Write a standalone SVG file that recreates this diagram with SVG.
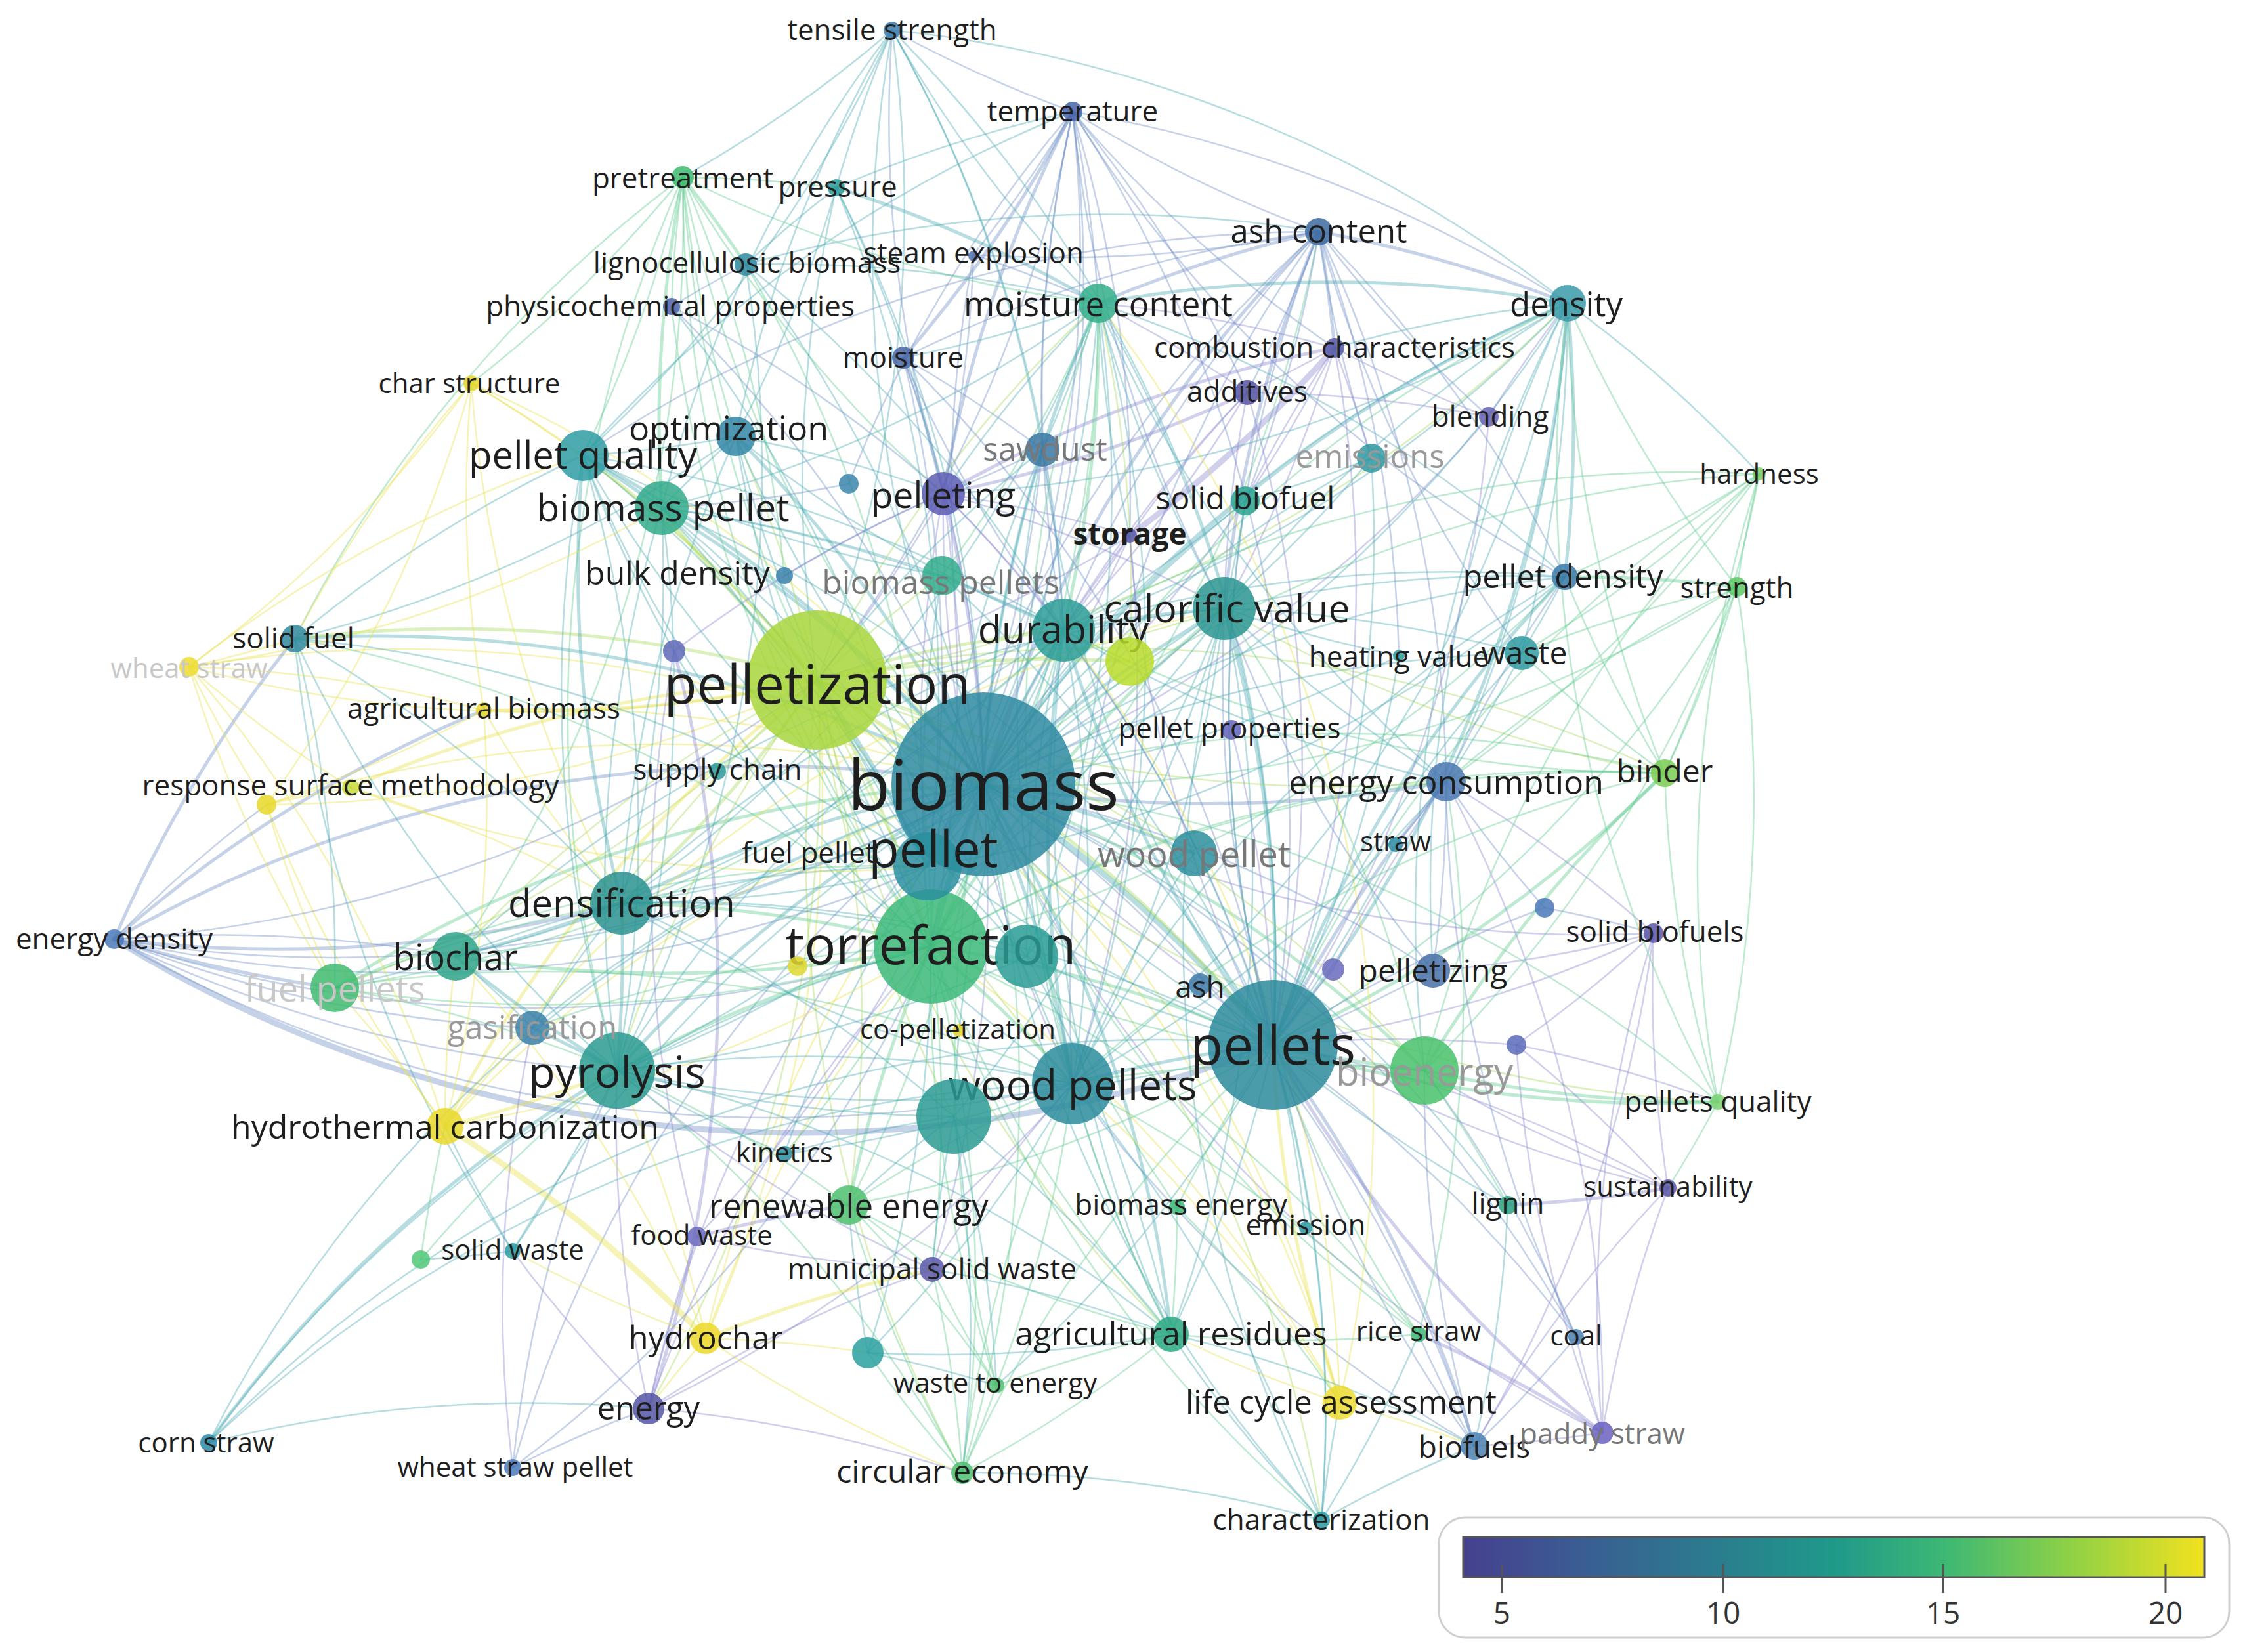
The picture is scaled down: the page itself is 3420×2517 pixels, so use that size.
<svg xmlns="http://www.w3.org/2000/svg" width="3420" height="2517" viewBox="0 0 3420 2517">
<defs>
<linearGradient id="vir" x1="0" y1="0" x2="1" y2="0">
<stop offset="0" stop-color="#46408e"/><stop offset="0.15" stop-color="#3b5b93"/><stop offset="0.35" stop-color="#2a7e8e"/><stop offset="0.5" stop-color="#1f998a"/><stop offset="0.65" stop-color="#3db874"/><stop offset="0.82" stop-color="#8fd146"/><stop offset="1" stop-color="#f2e21e"/>
</linearGradient>
</defs>
<style>
#edges path{fill:none;stroke-opacity:.4;stroke-linecap:round}
.t1{stroke:#4aa9b5;stroke-width:2.5}.t2{stroke:#4aa9b5;stroke-width:5}.t3{stroke:#4aa9b5;stroke-width:9}
.b1{stroke:#6d8fc6;stroke-width:2.5}.b2{stroke:#6d8fc6;stroke-width:5}.b3{stroke:#6d8fc6;stroke-width:9}
.p1{stroke:#8a86cf;stroke-width:2.5}.p2{stroke:#8a86cf;stroke-width:5}.p3{stroke:#8a86cf;stroke-width:9}
.g1{stroke:#5fca8e;stroke-width:2.5}.g2{stroke:#5fca8e;stroke-width:5}.g3{stroke:#5fca8e;stroke-width:9}
.y1{stroke:#e8e24c;stroke-width:2.5}.y2{stroke:#e8e24c;stroke-width:5}.y3{stroke:#e8e24c;stroke-width:9}
.l1{stroke:#a8d95a;stroke-width:2.5}.l2{stroke:#a8d95a;stroke-width:5}
circle.nd{fill-opacity:.85}
text{font-family:"Open Sans","Liberation Sans",sans-serif;fill:#1e1e1e;text-anchor:middle;dominant-baseline:central}
text.fd1{fill:#777}text.fd2{fill:#999}text.fd3{fill:#c8c8c8}
.tick{stroke:#555;stroke-width:3}
.lg{font-size:46px;fill:#333}
</style>
<rect width="3420" height="2517" fill="#ffffff"/>
<g id="edges">
<path class="t1" d="M1498 1195A2000 2000 0 0 1 1359 46"/>
<path class="b1" d="M1634 170A2000 2000 0 0 1 1498 1195"/>
<path class="g1" d="M1498 1195A2000 2000 0 0 1 1040 270"/>
<path class="t1" d="M1274 286A2000 2000 0 0 1 1498 1195"/>
<path class="b2" d="M1498 1195A2000 2000 0 0 1 2009 353"/>
<path class="t1" d="M1136 403A2000 2000 0 0 1 1498 1195"/>
<path class="b1" d="M1498 1195A2000 2000 0 0 1 1483 388"/>
<path class="b1" d="M1023 467A2000 2000 0 0 1 1498 1195"/>
<path class="t2" d="M1498 1195A2000 2000 0 0 1 1673 462"/>
<path class="t2" d="M1498 1195A2000 2000 0 0 1 2388 462"/>
<path class="p1" d="M2033 530A2000 2000 0 0 1 1498 1195"/>
<path class="b1" d="M1376 545A2000 2000 0 0 1 1498 1195"/>
<path class="y1" d="M718 584A2000 2000 0 0 1 1498 1195"/>
<path class="p1" d="M1498 1195A2000 2000 0 0 1 1900 598"/>
<path class="p1" d="M2268 635A2000 2000 0 0 1 1498 1195"/>
<path class="t2" d="M1121 665A2000 2000 0 0 1 1498 1195"/>
<path class="t2" d="M888 694A2000 2000 0 0 1 1498 1195"/>
<path class="t1" d="M1498 1195A2000 2000 0 0 1 1588 685"/>
<path class="t1" d="M1498 1195A2000 2000 0 0 1 2089 698"/>
<path class="g1" d="M1498 1195A2000 2000 0 0 1 2680 722"/>
<path class="p2" d="M1437 752A2000 2000 0 0 1 1498 1195"/>
<path class="t2" d="M1008 774A2000 2000 0 0 1 1498 1195"/>
<path class="t1" d="M1498 1195A2000 2000 0 0 1 1897 763"/>
<path class="p1" d="M1721 816A2000 2000 0 0 1 1498 1195"/>
<path class="t1" d="M1498 1195A2000 2000 0 0 1 2384 879"/>
<path class="g1" d="M2646 894A2000 2000 0 0 1 1498 1195"/>
<path class="t2" d="M449 973A2000 2000 0 0 1 1498 1195"/>
<path class="y1" d="M288 1016A2000 2000 0 0 1 1498 1195"/>
<path class="t2" d="M1498 1195A2000 2000 0 0 1 1620 960"/>
<path class="t2" d="M1498 1195A2000 2000 0 0 1 1865 927"/>
<path class="t1" d="M2131 999A2000 2000 0 0 1 1498 1195"/>
<path class="t1" d="M1498 1195A2000 2000 0 0 1 2318 995"/>
<path class="y1" d="M737 1082A2000 2000 0 0 1 1498 1195"/>
<path class="b2" d="M2203 1191A2000 2000 0 0 1 1498 1195"/>
<path class="g1" d="M1498 1195A2000 2000 0 0 1 2536 1178"/>
<path class="y1" d="M406 1226A2000 2000 0 0 1 1498 1195"/>
<path class="t2" d="M1498 1195A2000 2000 0 0 1 1819 1300"/>
<path class="t2" d="M947 1376A2000 2000 0 0 1 1498 1195"/>
<path class="p1" d="M2519 1422A2000 2000 0 0 1 1498 1195"/>
<path class="b2" d="M174 1431A2000 2000 0 0 1 1498 1195"/>
<path class="t1" d="M1498 1195A2000 2000 0 0 1 694 1457"/>
<path class="g2" d="M510 1505A2000 2000 0 0 1 1498 1195"/>
<path class="b1" d="M1498 1195A2000 2000 0 0 1 2183 1479"/>
<path class="t1" d="M811 1566A2000 2000 0 0 1 1498 1195"/>
<path class="g2" d="M1498 1195A2000 2000 0 0 1 2170 1631"/>
<path class="t2" d="M940 1631A2000 2000 0 0 1 1498 1195"/>
<path class="t2" d="M1498 1195A2000 2000 0 0 1 1634 1651"/>
<path class="y1" d="M678 1716A2000 2000 0 0 1 1498 1195"/>
<path class="g1" d="M1498 1195A2000 2000 0 0 1 2617 1679"/>
<path class="t1" d="M1195 1758A2000 2000 0 0 1 1498 1195"/>
<path class="g1" d="M1498 1195A2000 2000 0 0 1 1293 1836"/>
<path class="g1" d="M1793 1839A2000 2000 0 0 1 1498 1195"/>
<path class="t1" d="M1498 1195A2000 2000 0 0 1 2297 1836"/>
<path class="p1" d="M2541 1810A2000 2000 0 0 1 1498 1195"/>
<path class="p1" d="M1498 1195A2000 2000 0 0 1 1062 1884"/>
<path class="t1" d="M781 1906A2000 2000 0 0 1 1498 1195"/>
<path class="p1" d="M1498 1195A2000 2000 0 0 1 1420 1934"/>
<path class="y1" d="M1075 2039A2000 2000 0 0 1 1498 1195"/>
<path class="t2" d="M1498 1195A2000 2000 0 0 1 1784 2033"/>
<path class="g1" d="M2161 2033A2000 2000 0 0 1 1498 1195"/>
<path class="b1" d="M1498 1195A2000 2000 0 0 1 2401 2037"/>
<path class="g1" d="M1518 2111A2000 2000 0 0 1 1498 1195"/>
<path class="p1" d="M988 2146A2000 2000 0 0 1 1498 1195"/>
<path class="y1" d="M1498 1195A2000 2000 0 0 1 2041 2137"/>
<path class="t1" d="M318 2198A2000 2000 0 0 1 1498 1195"/>
<path class="b1" d="M1498 1195A2000 2000 0 0 1 2246 2203"/>
<path class="p1" d="M2441 2183A2000 2000 0 0 1 1498 1195"/>
<path class="b1" d="M781 2236A2000 2000 0 0 1 1498 1195"/>
<path class="g1" d="M1498 1195A2000 2000 0 0 1 1466 2244"/>
<path class="t1" d="M2013 2316A2000 2000 0 0 1 1498 1195"/>
<path class="l2" d="M1498 1195A2000 2000 0 0 1 1245 1036"/>
<path class="t3" d="M1418 1442A2000 2000 0 0 1 1498 1195"/>
<path class="t3" d="M1498 1195A2000 2000 0 0 1 1939 1592"/>
<path class="y1" d="M1245 1036A2000 2000 0 0 1 288 1016"/>
<path class="l2" d="M449 973A2000 2000 0 0 1 1245 1036"/>
<path class="y1" d="M1245 1036A2000 2000 0 0 1 406 1226"/>
<path class="y2" d="M534 1200A2000 2000 0 0 1 1245 1036"/>
<path class="y2" d="M1245 1036A2000 2000 0 0 1 737 1082"/>
<path class="y1" d="M718 584A2000 2000 0 0 1 1245 1036"/>
<path class="g1" d="M1245 1036A2000 2000 0 0 1 1040 270"/>
<path class="l2" d="M888 694A2000 2000 0 0 1 1245 1036"/>
<path class="l2" d="M1245 1036A2000 2000 0 0 1 1008 774"/>
<path class="l1" d="M1121 665A2000 2000 0 0 1 1245 1036"/>
<path class="l2" d="M1245 1036A2000 2000 0 0 1 947 1376"/>
<path class="l1" d="M694 1457A2000 2000 0 0 1 1245 1036"/>
<path class="l1" d="M1245 1036A2000 2000 0 0 1 510 1505"/>
<path class="y2" d="M678 1716A2000 2000 0 0 1 1245 1036"/>
<path class="y1" d="M1245 1036A2000 2000 0 0 1 1075 2039"/>
<path class="l1" d="M940 1631A2000 2000 0 0 1 1245 1036"/>
<path class="l2" d="M1245 1036A2000 2000 0 0 1 1939 1592"/>
<path class="l1" d="M1634 1651A2000 2000 0 0 1 1245 1036"/>
<path class="l2" d="M1245 1036A2000 2000 0 0 1 1620 960"/>
<path class="l1" d="M1865 927A2000 2000 0 0 1 1245 1036"/>
<path class="l1" d="M1245 1036A2000 2000 0 0 1 1673 462"/>
<path class="l1" d="M2388 462A2000 2000 0 0 1 1245 1036"/>
<path class="l1" d="M1245 1036A2000 2000 0 0 1 2536 1178"/>
<path class="l1" d="M2617 1679A2000 2000 0 0 1 1245 1036"/>
<path class="y1" d="M1245 1036A2000 2000 0 0 1 2041 2137"/>
<path class="l1" d="M1466 2244A2000 2000 0 0 1 1245 1036"/>
<path class="l1" d="M1245 1036A2000 2000 0 0 1 1293 1836"/>
<path class="l1" d="M1784 2033A2000 2000 0 0 1 1245 1036"/>
<path class="l1" d="M1245 1036A2000 2000 0 0 1 988 2146"/>
<path class="l1" d="M811 1566A2000 2000 0 0 1 1245 1036"/>
<path class="l1" d="M1245 1036A2000 2000 0 0 1 2013 2316"/>
<path class="t1" d="M1359 46A2000 2000 0 0 1 1245 1036"/>
<path class="l2" d="M1245 1036A2000 2000 0 0 1 1418 1442"/>
<path class="t2" d="M1245 1036A2000 2000 0 0 1 1413 1320"/>
<path class="l2" d="M1245 1036A2000 2000 0 0 1 1721 1008"/>
<path class="g1" d="M1418 1442A2000 2000 0 0 1 1040 270"/>
<path class="g1" d="M1136 403A2000 2000 0 0 1 1418 1442"/>
<path class="g1" d="M1418 1442A2000 2000 0 0 1 1023 467"/>
<path class="g1" d="M1673 462A2000 2000 0 0 1 1418 1442"/>
<path class="g2" d="M1418 1442A2000 2000 0 0 1 1865 927"/>
<path class="g1" d="M1620 960A2000 2000 0 0 1 1418 1442"/>
<path class="g2" d="M1418 1442A2000 2000 0 0 1 1634 1651"/>
<path class="g2" d="M940 1631A2000 2000 0 0 1 1418 1442"/>
<path class="g2" d="M1418 1442A2000 2000 0 0 1 694 1457"/>
<path class="g2" d="M947 1376A2000 2000 0 0 1 1418 1442"/>
<path class="g1" d="M1418 1442A2000 2000 0 0 1 510 1505"/>
<path class="g1" d="M811 1566A2000 2000 0 0 1 1418 1442"/>
<path class="y1" d="M1418 1442A2000 2000 0 0 1 678 1716"/>
<path class="y1" d="M1075 2039A2000 2000 0 0 1 1418 1442"/>
<path class="g1" d="M1418 1442A2000 2000 0 0 1 1195 1758"/>
<path class="g2" d="M1293 1836A2000 2000 0 0 1 1418 1442"/>
<path class="g1" d="M1418 1442A2000 2000 0 0 1 1420 1934"/>
<path class="g1" d="M1784 2033A2000 2000 0 0 1 1418 1442"/>
<path class="g1" d="M1418 1442A2000 2000 0 0 1 2161 2033"/>
<path class="g1" d="M1518 2111A2000 2000 0 0 1 1418 1442"/>
<path class="g1" d="M1418 1442A2000 2000 0 0 1 1466 2244"/>
<path class="g1" d="M2013 2316A2000 2000 0 0 1 1418 1442"/>
<path class="b1" d="M1418 1442A2000 2000 0 0 1 174 1431"/>
<path class="g1" d="M449 973A2000 2000 0 0 1 1418 1442"/>
<path class="g1" d="M1418 1442A2000 2000 0 0 1 2536 1178"/>
<path class="g1" d="M2170 1631A2000 2000 0 0 1 1418 1442"/>
<path class="g1" d="M1418 1442A2000 2000 0 0 1 2203 1191"/>
<path class="g1" d="M2384 879A2000 2000 0 0 1 1418 1442"/>
<path class="g1" d="M1418 1442A2000 2000 0 0 1 2388 462"/>
<path class="g1" d="M2009 353A2000 2000 0 0 1 1418 1442"/>
<path class="y1" d="M1418 1442A2000 2000 0 0 1 2041 2137"/>
<path class="g2" d="M1418 1442A2000 2000 0 0 1 1939 1592"/>
<path class="b3" d="M1939 1592A2000 2000 0 0 1 174 1431"/>
<path class="t2" d="M2388 462A2000 2000 0 0 1 1939 1592"/>
<path class="b1" d="M1939 1592A2000 2000 0 0 1 2009 353"/>
<path class="t2" d="M1865 927A2000 2000 0 0 1 1939 1592"/>
<path class="t2" d="M1939 1592A2000 2000 0 0 1 1620 960"/>
<path class="t1" d="M1673 462A2000 2000 0 0 1 1939 1592"/>
<path class="t2" d="M1939 1592A2000 2000 0 0 1 2384 879"/>
<path class="g1" d="M2646 894A2000 2000 0 0 1 1939 1592"/>
<path class="g1" d="M1939 1592A2000 2000 0 0 1 2680 722"/>
<path class="g2" d="M2536 1178A2000 2000 0 0 1 1939 1592"/>
<path class="b2" d="M1939 1592A2000 2000 0 0 1 2203 1191"/>
<path class="p1" d="M2519 1422A2000 2000 0 0 1 1939 1592"/>
<path class="b1" d="M1939 1592A2000 2000 0 0 1 2353 1383"/>
<path class="b1" d="M2183 1479A2000 2000 0 0 1 1939 1592"/>
<path class="p1" d="M1939 1592A2000 2000 0 0 1 2031 1477"/>
<path class="g2" d="M2170 1631A2000 2000 0 0 1 1939 1592"/>
<path class="p1" d="M1939 1592A2000 2000 0 0 1 2310 1592"/>
<path class="g2" d="M2617 1679A2000 2000 0 0 1 1939 1592"/>
<path class="p1" d="M1939 1592A2000 2000 0 0 1 2541 1810"/>
<path class="t1" d="M2297 1836A2000 2000 0 0 1 1939 1592"/>
<path class="t1" d="M1939 1592A2000 2000 0 0 1 1989 1871"/>
<path class="g1" d="M1793 1839A2000 2000 0 0 1 1939 1592"/>
<path class="t1" d="M1939 1592A2000 2000 0 0 1 1784 2033"/>
<path class="g1" d="M2161 2033A2000 2000 0 0 1 1939 1592"/>
<path class="b1" d="M1939 1592A2000 2000 0 0 1 2401 2037"/>
<path class="y2" d="M2041 2137A2000 2000 0 0 1 1939 1592"/>
<path class="b2" d="M1939 1592A2000 2000 0 0 1 2246 2203"/>
<path class="p2" d="M2441 2183A2000 2000 0 0 1 1939 1592"/>
<path class="t1" d="M1939 1592A2000 2000 0 0 1 2013 2316"/>
<path class="t2" d="M1634 1651A2000 2000 0 0 1 1939 1592"/>
<path class="t1" d="M1939 1592A2000 2000 0 0 1 940 1631"/>
<path class="t1" d="M947 1376A2000 2000 0 0 1 1939 1592"/>
<path class="t1" d="M1939 1592A2000 2000 0 0 1 1518 2111"/>
<path class="g1" d="M1466 2244A2000 2000 0 0 1 1939 1592"/>
<path class="g1" d="M1939 1592A2000 2000 0 0 1 1293 1836"/>
<path class="p1" d="M1437 752A2000 2000 0 0 1 1939 1592"/>
<path class="t1" d="M1939 1592A2000 2000 0 0 1 1588 685"/>
<path class="b1" d="M1634 1651A2000 2000 0 0 1 2009 353"/>
<path class="t1" d="M1673 462A2000 2000 0 0 1 1634 1651"/>
<path class="t2" d="M1634 1651A2000 2000 0 0 1 1620 960"/>
<path class="t1" d="M1865 927A2000 2000 0 0 1 1634 1651"/>
<path class="t1" d="M1634 1651A2000 2000 0 0 1 1588 685"/>
<path class="p1" d="M1721 816A2000 2000 0 0 1 1634 1651"/>
<path class="g1" d="M1634 1651A2000 2000 0 0 1 2170 1631"/>
<path class="t1" d="M1784 2033A2000 2000 0 0 1 1634 1651"/>
<path class="y1" d="M1634 1651A2000 2000 0 0 1 2041 2137"/>
<path class="b1" d="M2246 2203A2000 2000 0 0 1 1634 1651"/>
<path class="t1" d="M1634 1651A2000 2000 0 0 1 2013 2316"/>
<path class="g1" d="M1466 2244A2000 2000 0 0 1 1634 1651"/>
<path class="g1" d="M1634 1651A2000 2000 0 0 1 1518 2111"/>
<path class="p1" d="M1420 1934A2000 2000 0 0 1 1634 1651"/>
<path class="p1" d="M1634 1651A2000 2000 0 0 1 988 2146"/>
<path class="t1" d="M318 2198A2000 2000 0 0 1 1634 1651"/>
<path class="b1" d="M1634 1651A2000 2000 0 0 1 174 1431"/>
<path class="g1" d="M510 1505A2000 2000 0 0 1 1634 1651"/>
<path class="t1" d="M1634 1651A2000 2000 0 0 1 947 1376"/>
<path class="t1" d="M940 1631A2000 2000 0 0 1 1634 1651"/>
<path class="t1" d="M1634 1651A2000 2000 0 0 1 1195 1758"/>
<path class="g1" d="M1293 1836A2000 2000 0 0 1 1634 1651"/>
<path class="t1" d="M1634 1651A2000 2000 0 0 1 1322 2061"/>
<path class="t1" d="M888 694A2000 2000 0 0 1 1413 1320"/>
<path class="t1" d="M1413 1320A2000 2000 0 0 1 1121 665"/>
<path class="t1" d="M1008 774A2000 2000 0 0 1 1413 1320"/>
<path class="t1" d="M1413 1320A2000 2000 0 0 1 947 1376"/>
<path class="t1" d="M694 1457A2000 2000 0 0 1 1413 1320"/>
<path class="t1" d="M1413 1320A2000 2000 0 0 1 940 1631"/>
<path class="g1" d="M510 1505A2000 2000 0 0 1 1413 1320"/>
<path class="y1" d="M1413 1320A2000 2000 0 0 1 534 1200"/>
<path class="t1" d="M449 973A2000 2000 0 0 1 1413 1320"/>
<path class="b1" d="M1413 1320A2000 2000 0 0 1 174 1431"/>
<path class="t1" d="M1620 960A2000 2000 0 0 1 1413 1320"/>
<path class="t1" d="M1413 1320A2000 2000 0 0 1 1865 927"/>
<path class="t1" d="M1673 462A2000 2000 0 0 1 1413 1320"/>
<path class="t1" d="M1413 1320A2000 2000 0 0 1 2388 462"/>
<path class="t1" d="M2384 879A2000 2000 0 0 1 1413 1320"/>
<path class="t2" d="M940 1631A2000 2000 0 0 1 694 1457"/>
<path class="t2" d="M811 1566A2000 2000 0 0 1 940 1631"/>
<path class="y2" d="M940 1631A2000 2000 0 0 1 678 1716"/>
<path class="t2" d="M947 1376A2000 2000 0 0 1 940 1631"/>
<path class="y1" d="M940 1631A2000 2000 0 0 1 1075 2039"/>
<path class="p1" d="M988 2146A2000 2000 0 0 1 940 1631"/>
<path class="t2" d="M318 2198A2000 2000 0 0 1 940 1631"/>
<path class="t1" d="M940 1631A2000 2000 0 0 1 781 1906"/>
<path class="g1" d="M641 1919A2000 2000 0 0 1 940 1631"/>
<path class="b1" d="M940 1631A2000 2000 0 0 1 174 1431"/>
<path class="g1" d="M510 1505A2000 2000 0 0 1 940 1631"/>
<path class="t1" d="M940 1631A2000 2000 0 0 1 449 973"/>
<path class="t1" d="M1195 1758A2000 2000 0 0 1 940 1631"/>
<path class="g1" d="M940 1631A2000 2000 0 0 1 1293 1836"/>
<path class="p1" d="M1420 1934A2000 2000 0 0 1 940 1631"/>
<path class="g1" d="M940 1631A2000 2000 0 0 1 1466 2244"/>
<path class="t1" d="M1136 403A2000 2000 0 0 1 940 1631"/>
<path class="g1" d="M940 1631A2000 2000 0 0 1 1040 270"/>
<path class="t2" d="M947 1376A2000 2000 0 0 1 888 694"/>
<path class="t1" d="M1008 774A2000 2000 0 0 1 947 1376"/>
<path class="t1" d="M947 1376A2000 2000 0 0 1 1121 665"/>
<path class="t1" d="M449 973A2000 2000 0 0 1 947 1376"/>
<path class="b2" d="M947 1376A2000 2000 0 0 1 174 1431"/>
<path class="g1" d="M510 1505A2000 2000 0 0 1 947 1376"/>
<path class="t2" d="M947 1376A2000 2000 0 0 1 694 1457"/>
<path class="t1" d="M811 1566A2000 2000 0 0 1 947 1376"/>
<path class="y1" d="M947 1376A2000 2000 0 0 1 737 1082"/>
<path class="y1" d="M534 1200A2000 2000 0 0 1 947 1376"/>
<path class="y1" d="M947 1376A2000 2000 0 0 1 718 584"/>
<path class="t1" d="M1673 462A2000 2000 0 0 1 947 1376"/>
<path class="t1" d="M947 1376A2000 2000 0 0 1 1620 960"/>
<path class="t1" d="M2388 462A2000 2000 0 0 1 947 1376"/>
<path class="b2" d="M1634 170A2000 2000 0 0 1 1376 545"/>
<path class="b2" d="M1437 752A2000 2000 0 0 1 1634 170"/>
<path class="b1" d="M1634 170A2000 2000 0 0 1 1673 462"/>
<path class="b1" d="M2009 353A2000 2000 0 0 1 1634 170"/>
<path class="b1" d="M1634 170A2000 2000 0 0 1 2388 462"/>
<path class="b1" d="M1588 685A2000 2000 0 0 1 1634 170"/>
<path class="b1" d="M1634 170A2000 2000 0 0 1 1245 1036"/>
<path class="b1" d="M1620 960A2000 2000 0 0 1 1634 170"/>
<path class="b1" d="M1634 170A2000 2000 0 0 1 1483 388"/>
<path class="t1" d="M1274 286A2000 2000 0 0 1 1634 170"/>
<path class="b1" d="M1634 170A2000 2000 0 0 1 1359 46"/>
<path class="b1" d="M2033 530A2000 2000 0 0 1 1634 170"/>
<path class="b1" d="M1634 170A2000 2000 0 0 1 1900 598"/>
<path class="b1" d="M1293 737A2000 2000 0 0 1 1634 170"/>
<path class="b1" d="M1634 170A2000 2000 0 0 1 1721 816"/>
<path class="t1" d="M888 694A2000 2000 0 0 1 1634 170"/>
<path class="t1" d="M1359 46A2000 2000 0 0 1 888 694"/>
<path class="t1" d="M1121 665A2000 2000 0 0 1 1359 46"/>
<path class="t1" d="M1359 46A2000 2000 0 0 1 1620 960"/>
<path class="b1" d="M1437 752A2000 2000 0 0 1 1359 46"/>
<path class="t1" d="M1359 46A2000 2000 0 0 1 2388 462"/>
<path class="t1" d="M1673 462A2000 2000 0 0 1 1359 46"/>
<path class="t1" d="M1359 46A2000 2000 0 0 1 1040 270"/>
<path class="t1" d="M1274 286A2000 2000 0 0 1 1359 46"/>
<path class="t1" d="M1359 46A2000 2000 0 0 1 1939 1592"/>
<path class="g2" d="M1040 270A2000 2000 0 0 1 1136 403"/>
<path class="g1" d="M1023 467A2000 2000 0 0 1 1040 270"/>
<path class="g1" d="M1040 270A2000 2000 0 0 1 888 694"/>
<path class="g2" d="M1008 774A2000 2000 0 0 1 1040 270"/>
<path class="g1" d="M1040 270A2000 2000 0 0 1 718 584"/>
<path class="g1" d="M1121 665A2000 2000 0 0 1 1040 270"/>
<path class="g1" d="M1040 270A2000 2000 0 0 1 1274 286"/>
<path class="g1" d="M1673 462A2000 2000 0 0 1 1040 270"/>
<path class="g1" d="M1040 270A2000 2000 0 0 1 1195 877"/>
<path class="g1" d="M449 973A2000 2000 0 0 1 1040 270"/>
<path class="g1" d="M1040 270A2000 2000 0 0 1 694 1457"/>
<path class="g1" d="M1437 752A2000 2000 0 0 1 1040 270"/>
<path class="t1" d="M1274 286A2000 2000 0 0 1 1437 752"/>
<path class="t2" d="M1274 286A2000 2000 0 0 1 1673 462"/>
<path class="t1" d="M1274 286A2000 2000 0 0 1 1413 1320"/>
<path class="t1" d="M1136 403A2000 2000 0 0 1 1274 286"/>
<path class="t1" d="M1274 286A2000 2000 0 0 1 1121 665"/>
<path class="t1" d="M1245 1036A2000 2000 0 0 1 1274 286"/>
<path class="b2" d="M2009 353A2000 2000 0 0 1 2388 462"/>
<path class="b2" d="M1673 462A2000 2000 0 0 1 2009 353"/>
<path class="b2" d="M2009 353A2000 2000 0 0 1 2033 530"/>
<path class="b2" d="M1865 927A2000 2000 0 0 1 2009 353"/>
<path class="b1" d="M2009 353A2000 2000 0 0 1 1900 598"/>
<path class="b1" d="M2089 698A2000 2000 0 0 1 2009 353"/>
<path class="b1" d="M2009 353A2000 2000 0 0 1 1897 763"/>
<path class="b1" d="M1413 1320A2000 2000 0 0 1 2009 353"/>
<path class="b1" d="M2009 353A2000 2000 0 0 1 2384 879"/>
<path class="b1" d="M2268 635A2000 2000 0 0 1 2009 353"/>
<path class="b1" d="M2009 353A2000 2000 0 0 1 2131 999"/>
<path class="b1" d="M2318 995A2000 2000 0 0 1 2009 353"/>
<path class="b1" d="M2009 353A2000 2000 0 0 1 1483 388"/>
<path class="b1" d="M1376 545A2000 2000 0 0 1 2009 353"/>
<path class="b1" d="M888 694A2000 2000 0 0 1 2009 353"/>
<path class="b1" d="M2009 353A2000 2000 0 0 1 2203 1191"/>
<path class="b1" d="M1620 960A2000 2000 0 0 1 2009 353"/>
<path class="t1" d="M1136 403A2000 2000 0 0 1 2009 353"/>
<path class="t1" d="M2388 462A2000 2000 0 0 1 2680 722"/>
<path class="g1" d="M2646 894A2000 2000 0 0 1 2388 462"/>
<path class="t2" d="M2388 462A2000 2000 0 0 1 2384 879"/>
<path class="g1" d="M2536 1178A2000 2000 0 0 1 2388 462"/>
<path class="t2" d="M1673 462A2000 2000 0 0 1 2388 462"/>
<path class="t1" d="M2033 530A2000 2000 0 0 1 2388 462"/>
<path class="t1" d="M2388 462A2000 2000 0 0 1 1620 960"/>
<path class="t1" d="M1865 927A2000 2000 0 0 1 2388 462"/>
<path class="t1" d="M2388 462A2000 2000 0 0 1 2318 995"/>
<path class="t1" d="M2170 1631A2000 2000 0 0 1 2388 462"/>
<path class="t1" d="M2388 462A2000 2000 0 0 1 2203 1191"/>
<path class="t1" d="M2183 1479A2000 2000 0 0 1 2388 462"/>
<path class="t1" d="M2388 462A2000 2000 0 0 1 1437 752"/>
<path class="p1" d="M2033 530A2000 2000 0 0 1 1900 598"/>
<path class="p1" d="M2268 635A2000 2000 0 0 1 2033 530"/>
<path class="p1" d="M2033 530A2000 2000 0 0 1 2089 698"/>
<path class="p1" d="M1897 763A2000 2000 0 0 1 2033 530"/>
<path class="p1" d="M2033 530A2000 2000 0 0 1 1865 927"/>
<path class="p1" d="M1673 462A2000 2000 0 0 1 2033 530"/>
<path class="p3" d="M2033 530A2000 2000 0 0 1 1721 816"/>
<path class="p2" d="M1437 752A2000 2000 0 0 1 2033 530"/>
<path class="p1" d="M2033 530A2000 2000 0 0 1 1939 1592"/>
<path class="p2" d="M1900 598A2000 2000 0 0 1 1437 752"/>
<path class="p1" d="M1721 816A2000 2000 0 0 1 1900 598"/>
<path class="p1" d="M1900 598A2000 2000 0 0 1 1620 960"/>
<path class="p1" d="M1865 927A2000 2000 0 0 1 1900 598"/>
<path class="p1" d="M1900 598A2000 2000 0 0 1 2268 635"/>
<path class="p1" d="M1673 462A2000 2000 0 0 1 1900 598"/>
<path class="p1" d="M1900 598A2000 2000 0 0 1 1939 1592"/>
<path class="g2" d="M1673 462A2000 2000 0 0 1 1620 960"/>
<path class="t1" d="M1437 752A2000 2000 0 0 1 1673 462"/>
<path class="t1" d="M1673 462A2000 2000 0 0 1 1588 685"/>
<path class="t1" d="M1865 927A2000 2000 0 0 1 1673 462"/>
<path class="t1" d="M1673 462A2000 2000 0 0 1 2384 879"/>
<path class="t1" d="M2203 1191A2000 2000 0 0 1 1673 462"/>
<path class="t1" d="M1673 462A2000 2000 0 0 1 1376 545"/>
<path class="t1" d="M1721 816A2000 2000 0 0 1 1673 462"/>
<path class="g1" d="M1673 462A2000 2000 0 0 1 1435 877"/>
<path class="g1" d="M1784 2033A2000 2000 0 0 1 1673 462"/>
<path class="y1" d="M1673 462A2000 2000 0 0 1 2041 2137"/>
<path class="l1" d="M1673 462A2000 2000 0 0 1 1721 1008"/>
<path class="b1" d="M1376 545A2000 2000 0 0 1 1437 752"/>
<path class="b1" d="M1620 960A2000 2000 0 0 1 1376 545"/>
<path class="b1" d="M1376 545A2000 2000 0 0 1 1588 685"/>
<path class="b1" d="M1376 545A2000 2000 0 0 1 1413 1320"/>
<path class="g1" d="M2680 722A2000 2000 0 0 1 2536 1178"/>
<path class="g1" d="M2646 894A2000 2000 0 0 1 2680 722"/>
<path class="g1" d="M2680 722A2000 2000 0 0 1 2384 879"/>
<path class="g1" d="M2617 1679A2000 2000 0 0 1 2680 722"/>
<path class="g1" d="M2680 722A2000 2000 0 0 1 2318 995"/>
<path class="g1" d="M1620 960A2000 2000 0 0 1 2680 722"/>
<path class="g1" d="M2646 894A2000 2000 0 0 1 2536 1178"/>
<path class="g2" d="M2384 879A2000 2000 0 0 1 2646 894"/>
<path class="g1" d="M2646 894A2000 2000 0 0 1 2617 1679"/>
<path class="g1" d="M2318 995A2000 2000 0 0 1 2646 894"/>
<path class="g1" d="M2536 1178A2000 2000 0 0 1 2384 879"/>
<path class="g2" d="M2170 1631A2000 2000 0 0 1 2536 1178"/>
<path class="g1" d="M2617 1679A2000 2000 0 0 1 2536 1178"/>
<path class="g1" d="M2536 1178A2000 2000 0 0 1 2318 995"/>
<path class="g1" d="M2203 1191A2000 2000 0 0 1 2536 1178"/>
<path class="g1" d="M2536 1178A2000 2000 0 0 1 1620 960"/>
<path class="l1" d="M2536 1178A2000 2000 0 0 1 1865 927"/>
<path class="g2" d="M2617 1679A2000 2000 0 0 1 2170 1631"/>
<path class="p1" d="M2310 1592A2000 2000 0 0 1 2617 1679"/>
<path class="g1" d="M2617 1679A2000 2000 0 0 1 2541 1810"/>
<path class="p1" d="M2519 1422A2000 2000 0 0 1 2183 1479"/>
<path class="p1" d="M2203 1191A2000 2000 0 0 1 2519 1422"/>
<path class="p1" d="M2519 1422A2000 2000 0 0 1 2310 1592"/>
<path class="p1" d="M2541 1810A2000 2000 0 0 1 2519 1422"/>
<path class="p1" d="M2519 1422A2000 2000 0 0 1 2246 2203"/>
<path class="p1" d="M2441 2183A2000 2000 0 0 1 2519 1422"/>
<path class="b1" d="M2353 1383A2000 2000 0 0 1 2519 1422"/>
<path class="p2" d="M2541 1810A2000 2000 0 0 1 2297 1836"/>
<path class="p1" d="M2246 2203A2000 2000 0 0 1 2541 1810"/>
<path class="p1" d="M2541 1810A2000 2000 0 0 1 2170 1631"/>
<path class="p1" d="M2441 2183A2000 2000 0 0 1 2541 1810"/>
<path class="p1" d="M2310 1592A2000 2000 0 0 1 2541 1810"/>
<path class="p1" d="M2441 2183A2000 2000 0 0 1 2246 2203"/>
<path class="p2" d="M2161 2033A2000 2000 0 0 1 2441 2183"/>
<path class="p1" d="M2441 2183A2000 2000 0 0 1 2401 2037"/>
<path class="p1" d="M2203 1191A2000 2000 0 0 1 2441 2183"/>
<path class="p1" d="M2441 2183A2000 2000 0 0 1 2310 1592"/>
<path class="b1" d="M2401 2037A2000 2000 0 0 1 2246 2203"/>
<path class="b1" d="M2170 1631A2000 2000 0 0 1 2401 2037"/>
<path class="b1" d="M2401 2037A2000 2000 0 0 1 2203 1191"/>
<path class="y1" d="M2041 2137A2000 2000 0 0 1 1784 2033"/>
<path class="t1" d="M2013 2316A2000 2000 0 0 1 2041 2137"/>
<path class="y1" d="M2041 2137A2000 2000 0 0 1 2246 2203"/>
<path class="g1" d="M1793 1839A2000 2000 0 0 1 2041 2137"/>
<path class="t1" d="M2013 2316A2000 2000 0 0 1 1784 2033"/>
<path class="t1" d="M1466 2244A2000 2000 0 0 1 2013 2316"/>
<path class="t1" d="M2013 2316A2000 2000 0 0 1 2246 2203"/>
<path class="t1" d="M2161 2033A2000 2000 0 0 1 2013 2316"/>
<path class="t1" d="M2013 2316A2000 2000 0 0 1 1865 927"/>
<path class="t1" d="M1620 960A2000 2000 0 0 1 2013 2316"/>
<path class="b1" d="M2246 2203A2000 2000 0 0 1 2161 2033"/>
<path class="t1" d="M1784 2033A2000 2000 0 0 1 2246 2203"/>
<path class="b1" d="M2246 2203A2000 2000 0 0 1 2170 1631"/>
<path class="t1" d="M2297 1836A2000 2000 0 0 1 2246 2203"/>
<path class="g1" d="M2161 2033A2000 2000 0 0 1 1784 2033"/>
<path class="g1" d="M2203 1191A2000 2000 0 0 1 2161 2033"/>
<path class="g1" d="M1784 2033A2000 2000 0 0 1 1466 2244"/>
<path class="g1" d="M1518 2111A2000 2000 0 0 1 1784 2033"/>
<path class="g1" d="M1784 2033A2000 2000 0 0 1 1293 1836"/>
<path class="t1" d="M1420 1934A2000 2000 0 0 1 1784 2033"/>
<path class="t1" d="M1784 2033A2000 2000 0 0 1 1322 2061"/>
<path class="g1" d="M1793 1839A2000 2000 0 0 1 1784 2033"/>
<path class="g1" d="M1466 2244A2000 2000 0 0 1 1293 1836"/>
<path class="g1" d="M1518 2111A2000 2000 0 0 1 1466 2244"/>
<path class="g1" d="M1466 2244A2000 2000 0 0 1 1322 2061"/>
<path class="g1" d="M1420 1934A2000 2000 0 0 1 1466 2244"/>
<path class="y1" d="M1466 2244A2000 2000 0 0 1 1075 2039"/>
<path class="p1" d="M988 2146A2000 2000 0 0 1 1466 2244"/>
<path class="g1" d="M1518 2111A2000 2000 0 0 1 1420 1934"/>
<path class="t1" d="M1322 2061A2000 2000 0 0 1 1518 2111"/>
<path class="g1" d="M1293 1836A2000 2000 0 0 1 1518 2111"/>
<path class="p1" d="M1420 1934A2000 2000 0 0 1 1062 1884"/>
<path class="g1" d="M1293 1836A2000 2000 0 0 1 1420 1934"/>
<path class="p2" d="M1062 1884A2000 2000 0 0 1 1293 1836"/>
<path class="p1" d="M988 2146A2000 2000 0 0 1 1420 1934"/>
<path class="t1" d="M1322 2061A2000 2000 0 0 1 1293 1836"/>
<path class="y1" d="M1075 2039A2000 2000 0 0 1 1322 2061"/>
<path class="b1" d="M781 2236A2000 2000 0 0 1 988 2146"/>
<path class="p1" d="M988 2146A2000 2000 0 0 1 1062 1884"/>
<path class="p2" d="M1027 992A2000 2000 0 0 1 988 2146"/>
<path class="y1" d="M988 2146A2000 2000 0 0 1 1075 2039"/>
<path class="p1" d="M988 2146A2000 2000 0 0 1 781 1906"/>
<path class="y3" d="M678 1716A2000 2000 0 0 1 1075 2039"/>
<path class="y2" d="M1075 2039A2000 2000 0 0 1 1420 1934"/>
<path class="y1" d="M1075 2039A2000 2000 0 0 1 781 1906"/>
<path class="p1" d="M781 2236A2000 2000 0 0 1 811 1566"/>
<path class="b1" d="M781 2236A2000 2000 0 0 1 940 1631"/>
<path class="t1" d="M318 2198A2000 2000 0 0 1 988 2146"/>
<path class="t1" d="M318 2198A2000 2000 0 0 1 1939 1592"/>
<path class="t1" d="M781 1906A2000 2000 0 0 1 678 1716"/>
<path class="g1" d="M641 1919A2000 2000 0 0 1 678 1716"/>
<path class="t1" d="M781 1906A2000 2000 0 0 1 641 1919"/>
<path class="t1" d="M781 1906A2000 2000 0 0 1 449 973"/>
<path class="p1" d="M1062 1884A2000 2000 0 0 1 1027 992"/>
<path class="y1" d="M678 1716A2000 2000 0 0 1 694 1457"/>
<path class="y1" d="M510 1505A2000 2000 0 0 1 678 1716"/>
<path class="y1" d="M678 1716A2000 2000 0 0 1 811 1566"/>
<path class="y1" d="M288 1016A2000 2000 0 0 1 678 1716"/>
<path class="y1" d="M678 1716A2000 2000 0 0 1 406 1226"/>
<path class="y1" d="M737 1082A2000 2000 0 0 1 678 1716"/>
<path class="t1" d="M694 1457A2000 2000 0 0 1 811 1566"/>
<path class="t1" d="M694 1457A2000 2000 0 0 1 510 1505"/>
<path class="b1" d="M174 1431A2000 2000 0 0 1 694 1457"/>
<path class="y1" d="M694 1457A2000 2000 0 0 1 1075 2039"/>
<path class="b2" d="M510 1505A2000 2000 0 0 1 174 1431"/>
<path class="y1" d="M510 1505A2000 2000 0 0 1 288 1016"/>
<path class="t1" d="M449 973A2000 2000 0 0 1 510 1505"/>
<path class="y1" d="M510 1505A2000 2000 0 0 1 406 1226"/>
<path class="b1" d="M811 1566A2000 2000 0 0 1 174 1431"/>
<path class="b2" d="M174 1431A2000 2000 0 0 1 449 973"/>
<path class="b2" d="M174 1431A2000 2000 0 0 1 737 1082"/>
<path class="b1" d="M174 1431A2000 2000 0 0 1 406 1226"/>
<path class="y1" d="M449 973A2000 2000 0 0 1 288 1016"/>
<path class="y1" d="M406 1226A2000 2000 0 0 1 288 1016"/>
<path class="y1" d="M288 1016A2000 2000 0 0 1 737 1082"/>
<path class="y1" d="M534 1200A2000 2000 0 0 1 288 1016"/>
<path class="t1" d="M449 973A2000 2000 0 0 1 888 694"/>
<path class="t1" d="M1121 665A2000 2000 0 0 1 449 973"/>
<path class="y1" d="M449 973A2000 2000 0 0 1 718 584"/>
<path class="y1" d="M406 1226A2000 2000 0 0 1 534 1200"/>
<path class="y1" d="M737 1082A2000 2000 0 0 1 406 1226"/>
<path class="t2" d="M888 694A2000 2000 0 0 1 1008 774"/>
<path class="t1" d="M1121 665A2000 2000 0 0 1 888 694"/>
<path class="t1" d="M888 694A2000 2000 0 0 1 1620 960"/>
<path class="y1" d="M718 584A2000 2000 0 0 1 888 694"/>
<path class="t1" d="M1008 774A2000 2000 0 0 1 1121 665"/>
<path class="t1" d="M1008 774A2000 2000 0 0 1 1620 960"/>
<path class="t1" d="M1121 665A2000 2000 0 0 1 1437 752"/>
<path class="b1" d="M1293 737A2000 2000 0 0 1 1008 774"/>
<path class="b1" d="M1195 877A2000 2000 0 0 1 1437 752"/>
<path class="p1" d="M1027 992A2000 2000 0 0 1 1437 752"/>
<path class="b1" d="M1023 467A2000 2000 0 0 1 1136 403"/>
<path class="b1" d="M1023 467A2000 2000 0 0 1 1437 752"/>
<path class="t1" d="M1136 403A2000 2000 0 0 1 1673 462"/>
<path class="b1" d="M1483 388A2000 2000 0 0 1 1673 462"/>
<path class="b1" d="M1483 388A2000 2000 0 0 1 1437 752"/>
<path class="p1" d="M1437 752A2000 2000 0 0 1 1620 960"/>
<path class="b1" d="M1588 685A2000 2000 0 0 1 1437 752"/>
<path class="p1" d="M1437 752A2000 2000 0 0 1 1721 816"/>
<path class="p1" d="M1413 1320A2000 2000 0 0 1 1437 752"/>
<path class="p1" d="M1437 752A2000 2000 0 0 1 1865 927"/>
<path class="p1" d="M1634 1651A2000 2000 0 0 1 1437 752"/>
<path class="b1" d="M1588 685A2000 2000 0 0 1 1620 960"/>
<path class="b1" d="M1588 685A2000 2000 0 0 1 1413 1320"/>
<path class="t1" d="M1897 763A2000 2000 0 0 1 1865 927"/>
<path class="t1" d="M2089 698A2000 2000 0 0 1 1897 763"/>
<path class="t1" d="M1897 763A2000 2000 0 0 1 1620 960"/>
<path class="t1" d="M2089 698A2000 2000 0 0 1 1865 927"/>
<path class="t1" d="M2089 698A2000 2000 0 0 1 1939 1592"/>
<path class="p1" d="M2268 635A2000 2000 0 0 1 1939 1592"/>
<path class="p1" d="M2268 635A2000 2000 0 0 1 2388 462"/>
<path class="t2" d="M1620 960A2000 2000 0 0 1 1865 927"/>
<path class="t1" d="M1865 927A2000 2000 0 0 1 2318 995"/>
<path class="t1" d="M2131 999A2000 2000 0 0 1 1865 927"/>
<path class="t1" d="M1865 927A2000 2000 0 0 1 2384 879"/>
<path class="t1" d="M2203 1191A2000 2000 0 0 1 1865 927"/>
<path class="t1" d="M1620 960A2000 2000 0 0 1 2384 879"/>
<path class="l1" d="M1721 1008A2000 2000 0 0 1 1620 960"/>
<path class="t1" d="M2384 879A2000 2000 0 0 1 2318 995"/>
<path class="b1" d="M2203 1191A2000 2000 0 0 1 2384 879"/>
<path class="t1" d="M2318 995A2000 2000 0 0 1 2203 1191"/>
<path class="b1" d="M2203 1191A2000 2000 0 0 1 2183 1479"/>
<path class="b1" d="M2353 1383A2000 2000 0 0 1 2203 1191"/>
<path class="b1" d="M2203 1191A2000 2000 0 0 1 2126 1287"/>
<path class="g1" d="M2170 1631A2000 2000 0 0 1 2297 1836"/>
<path class="t1" d="M2126 1287A2000 2000 0 0 1 1939 1592"/>
<path class="p1" d="M1876 1112A2000 2000 0 0 1 1939 1592"/>
<path class="b1" d="M1828 1500A2000 2000 0 0 1 1939 1592"/>
<path class="p1" d="M2031 1477A2000 2000 0 0 1 2203 1191"/>
<path class="t1" d="M1620 960A2000 2000 0 0 1 1634 1651"/>
<path class="t1" d="M1435 877A2000 2000 0 0 1 1620 960"/>
<path class="p1" d="M1620 960A2000 2000 0 0 1 1721 816"/>
<path class="t1" d="M2203 1191A2000 2000 0 0 1 1620 960"/>
<path class="t1" d="M1620 960A2000 2000 0 0 1 694 1457"/>
<path class="t1" d="M940 1631A2000 2000 0 0 1 1620 960"/>
<path class="g1" d="M1620 960A2000 2000 0 0 1 510 1505"/>
<path class="t1" d="M1784 2033A2000 2000 0 0 1 1620 960"/>
<path class="y1" d="M1620 960A2000 2000 0 0 1 2041 2137"/>
<path class="t1" d="M1865 927A2000 2000 0 0 1 940 1631"/>
<path class="t1" d="M694 1457A2000 2000 0 0 1 1865 927"/>
<path class="t1" d="M1865 927A2000 2000 0 0 1 1784 2033"/>
<path class="b1" d="M2246 2203A2000 2000 0 0 1 1865 927"/>
<path class="g1" d="M1865 927A2000 2000 0 0 1 2170 1631"/>
<path class="b1" d="M2183 1479A2000 2000 0 0 1 1865 927"/>
<path class="b1" d="M1865 927A2000 2000 0 0 1 174 1431"/>
<path class="y1" d="M678 1716A2000 2000 0 0 1 1865 927"/>
<path class="t1" d="M1418 1442A2000 2000 0 0 1 888 694"/>
<path class="t1" d="M1008 774A2000 2000 0 0 1 1418 1442"/>
<path class="t1" d="M1418 1442A2000 2000 0 0 1 1121 665"/>
<path class="p1" d="M1437 752A2000 2000 0 0 1 1418 1442"/>
<path class="t1" d="M1418 1442A2000 2000 0 0 1 1588 685"/>
<path class="p1" d="M988 2146A2000 2000 0 0 1 1418 1442"/>
<path class="t1" d="M1418 1442A2000 2000 0 0 1 1322 2061"/>
<path class="t1" d="M318 2198A2000 2000 0 0 1 1418 1442"/>
<path class="b1" d="M1418 1442A2000 2000 0 0 1 781 2236"/>
<path class="t1" d="M940 1631A2000 2000 0 0 1 888 694"/>
<path class="t1" d="M1008 774A2000 2000 0 0 1 940 1631"/>
<path class="t1" d="M940 1631A2000 2000 0 0 1 1784 2033"/>
<path class="t1" d="M1245 1036A2000 2000 0 0 1 1588 685"/>
<path class="p1" d="M1437 752A2000 2000 0 0 1 1245 1036"/>
<path class="l1" d="M1245 1036A2000 2000 0 0 1 1435 877"/>
<path class="l1" d="M2203 1191A2000 2000 0 0 1 1245 1036"/>
<path class="l1" d="M1245 1036A2000 2000 0 0 1 1819 1300"/>
<path class="p1" d="M1721 816A2000 2000 0 0 1 1245 1036"/>
<path class="l1" d="M1245 1036A2000 2000 0 0 1 2170 1631"/>
<path class="l1" d="M1453 1701A2000 2000 0 0 1 1245 1036"/>
<path class="b1" d="M1245 1036A2000 2000 0 0 1 174 1431"/>
<path class="t1" d="M1939 1592A2000 2000 0 0 1 888 694"/>
<path class="t1" d="M1008 774A2000 2000 0 0 1 1939 1592"/>
<path class="t1" d="M1939 1592A2000 2000 0 0 1 1121 665"/>
<path class="b1" d="M1376 545A2000 2000 0 0 1 1939 1592"/>
<path class="t1" d="M1939 1592A2000 2000 0 0 1 1897 763"/>
<path class="t1" d="M2131 999A2000 2000 0 0 1 1939 1592"/>
<path class="t1" d="M1939 1592A2000 2000 0 0 1 2318 995"/>
<path class="t1" d="M1634 1651A2000 2000 0 0 1 888 694"/>
<path class="t1" d="M1008 774A2000 2000 0 0 1 1634 1651"/>
<path class="t1" d="M1634 1651A2000 2000 0 0 1 1819 1300"/>
<path class="t1" d="M2203 1191A2000 2000 0 0 1 1634 1651"/>
<path class="t1" d="M1634 1651A2000 2000 0 0 1 2384 879"/>
<path class="t1" d="M2388 462A2000 2000 0 0 1 1634 1651"/>
<path class="g1" d="M1634 1651A2000 2000 0 0 1 2161 2033"/>
<path class="t1" d="M1453 1701A2000 2000 0 0 1 1784 2033"/>
<path class="t1" d="M1293 1836A2000 2000 0 0 1 1453 1701"/>
<path class="t1" d="M1453 1701A2000 2000 0 0 1 1466 2244"/>
<path class="t1" d="M1420 1934A2000 2000 0 0 1 1453 1701"/>
<path class="t1" d="M1453 1701A2000 2000 0 0 1 940 1631"/>
<path class="t1" d="M947 1376A2000 2000 0 0 1 1453 1701"/>
<path class="t1" d="M1453 1701A2000 2000 0 0 1 1620 960"/>
<path class="t1" d="M1865 927A2000 2000 0 0 1 1453 1701"/>
<path class="t1" d="M1453 1701A2000 2000 0 0 1 1518 2111"/>
<path class="t1" d="M1195 1758A2000 2000 0 0 1 1453 1701"/>
<path class="t1" d="M1564 1457A2000 2000 0 0 1 1620 960"/>
<path class="t1" d="M1865 927A2000 2000 0 0 1 1564 1457"/>
<path class="t1" d="M1564 1457A2000 2000 0 0 1 940 1631"/>
<path class="t1" d="M947 1376A2000 2000 0 0 1 1564 1457"/>
<path class="t1" d="M1564 1457A2000 2000 0 0 1 1784 2033"/>
<path class="t1" d="M1939 1592A2000 2000 0 0 1 1564 1457"/>
<path class="t1" d="M1564 1457A2000 2000 0 0 1 1245 1036"/>
<path class="t1" d="M1673 462A2000 2000 0 0 1 1564 1457"/>
<path class="t1" d="M1435 877A2000 2000 0 0 1 888 694"/>
<path class="t1" d="M1008 774A2000 2000 0 0 1 1435 877"/>
<path class="t1" d="M1435 877A2000 2000 0 0 1 1939 1592"/>
<path class="t1" d="M1418 1442A2000 2000 0 0 1 1435 877"/>
<path class="t1" d="M888 694A2000 2000 0 0 1 940 1631"/>
<path class="t1" d="M940 1631A2000 2000 0 0 1 1008 774"/>
<path class="p1" d="M1721 816A2000 2000 0 0 1 1620 960"/>
<path class="p1" d="M1939 1592A2000 2000 0 0 1 1721 816"/>
<path class="y1" d="M718 584A2000 2000 0 0 1 288 1016"/>
<path class="y1" d="M737 1082A2000 2000 0 0 1 718 584"/>
<path class="y1" d="M718 584A2000 2000 0 0 1 406 1226"/>
<path class="y1" d="M288 1016A2000 2000 0 0 1 888 694"/>
<path class="y1" d="M1008 774A2000 2000 0 0 1 288 1016"/>
<path class="g1" d="M2680 722A2000 2000 0 0 1 2203 1191"/>
<path class="g1" d="M2170 1631A2000 2000 0 0 1 2680 722"/>
<path class="g1" d="M2646 894A2000 2000 0 0 1 2170 1631"/>
<path class="g1" d="M2203 1191A2000 2000 0 0 1 2646 894"/>
<path class="g1" d="M2617 1679A2000 2000 0 0 1 2388 462"/>
<path class="g1" d="M1634 1651A2000 2000 0 0 1 2536 1178"/>
<path class="t1" d="M1359 46A2000 2000 0 0 1 1588 685"/>
<path class="t1" d="M1008 774A2000 2000 0 0 1 1359 46"/>
<path class="b1" d="M1634 170A2000 2000 0 0 1 1939 1592"/>
<path class="b1" d="M1865 927A2000 2000 0 0 1 1634 170"/>
<path class="b1" d="M1634 170A2000 2000 0 0 1 1413 1320"/>
<path class="b1" d="M2384 879A2000 2000 0 0 1 1634 170"/>
<path class="t1" d="M1136 403A2000 2000 0 0 1 1620 960"/>
<path class="t1" d="M1620 960A2000 2000 0 0 1 1121 665"/>
<path class="t1" d="M1023 467A2000 2000 0 0 1 1413 1320"/>
<path class="t1" d="M1673 462A2000 2000 0 0 1 1008 774"/>
</g>
<g id="node-biomass"><circle class="nd" cx="1498" cy="1195" r="140" fill="#2e8aa0"/><text x="1498" y="1193" font-size="106">biomass</text></g>
<g id="node-pelletization"><circle class="nd" cx="1245" cy="1036" r="106" fill="#a8d63c"/><text x="1245" y="1040" font-size="82">pelletization</text></g>
<g id="node-pellets"><circle class="nd" cx="1939" cy="1592" r="99" fill="#2b8a9b"/><text x="1939" y="1590" font-size="82">pellets</text></g>
<g id="node-torrefaction"><circle class="nd" cx="1418" cy="1442" r="87" fill="#3cb979"/><text x="1418" y="1437" font-size="80">torrefaction</text></g>
<g id="node-wood-pellets"><circle class="nd" cx="1634" cy="1651" r="62" fill="#2c8c9c"/><text x="1634" y="1651" font-size="64">wood pellets</text></g>
<g id="node-pyrolysis"><circle class="nd" cx="940" cy="1631" r="58" fill="#2a9a90"/><text x="940" y="1631" font-size="66">pyrolysis</text></g>
<g id="node-u9"><circle class="nd" cx="1453" cy="1701" r="57" fill="#2b9a93"/></g>
<g id="node-pellet"><circle class="nd" cx="1413" cy="1320" r="52" fill="#2a8f9d"/><text x="1422" y="1291" font-size="76">pellet</text></g>
<g id="node-bioenergy"><circle class="nd" cx="2170" cy="1631" r="52" fill="#48c16b"/><text class="fd2" x="2170" y="1631" font-size="58">bioenergy</text></g>
<g id="node-durability"><circle class="nd" cx="1620" cy="960" r="48" fill="#2b9c96"/><text x="1620" y="957" font-size="59">durability</text></g>
<g id="node-calorific-value"><circle class="nd" cx="1865" cy="927" r="48" fill="#2a9590"/><text x="1869" y="925" font-size="59">calorific value</text></g>
<g id="node-densification"><circle class="nd" cx="947" cy="1376" r="48" fill="#2a9290"/><text x="947" y="1374" font-size="58">densification</text></g>
<g id="node-u5"><circle class="nd" cx="1564" cy="1457" r="48" fill="#2a9c94"/></g>
<g id="node-biomass-pellet"><circle class="nd" cx="1008" cy="774" r="41" fill="#31a98b"/><text x="1010" y="772" font-size="57">biomass pellet</text></g>
<g id="node-pellet-quality"><circle class="nd" cx="888" cy="694" r="39" fill="#2e9ca3"/><text x="888" y="691" font-size="58">pellet quality</text></g>
<g id="node-biochar"><circle class="nd" cx="694" cy="1457" r="37" fill="#2fa38a"/><text x="694" y="1457" font-size="54">biochar</text></g>
<g id="node-fuel-pellets"><circle class="nd" cx="510" cy="1505" r="37" fill="#3fbb70"/><text class="fd3" x="510" y="1505" font-size="54">fuel pellets</text></g>
<g id="node-u-yg"><circle class="nd" cx="1721" cy="1008" r="37" fill="#b8dc2c"/></g>
<g id="node-pelleting"><circle class="nd" cx="1437" cy="752" r="33" fill="#5c5cb4"/><text x="1437" y="752" font-size="55">pelleting</text></g>
<g id="node-optimization"><circle class="nd" cx="1121" cy="665" r="30" fill="#3186a6"/><text x="1110" y="650" font-size="52">optimization</text></g>
<g id="node-moisture-content"><circle class="nd" cx="1673" cy="462" r="30" fill="#33ae8a"/><text x="1673" y="462" font-size="51">moisture content</text></g>
<g id="node-biomass-pellets"><circle class="nd" cx="1435" cy="877" r="30" fill="#31ab8b"/><text class="fd1" x="1433" y="886" font-size="50">biomass pellets</text></g>
<g id="node-energy-consumption"><circle class="nd" cx="2203" cy="1191" r="30" fill="#4b78b2"/><text x="2203" y="1191" font-size="50">energy consumption</text></g>
<g id="node-renewable-energy"><circle class="nd" cx="1293" cy="1836" r="30" fill="#4dc070"/><text x="1293" y="1836" font-size="51">renewable energy</text></g>
<g id="node-density"><circle class="nd" cx="2388" cy="462" r="28" fill="#3a9aa8"/><text x="2386" y="462" font-size="51">density</text></g>
<g id="node-hydrothermal-carbonization"><circle class="nd" cx="678" cy="1716" r="28" fill="#e8d82a"/><text x="678" y="1716" font-size="50" fill="#5a5a5a">hydrothermal carbonization</text></g>
<g id="node-agricultural-residues"><circle class="nd" cx="1784" cy="2033" r="27" fill="#2aa882"/><text x="1784" y="2031" font-size="50">agricultural residues</text></g>
<g id="node-sawdust"><circle class="nd" cx="1588" cy="685" r="26" fill="#3a78a2"/><text class="fd1" x="1592" y="683" font-size="49">sawdust</text></g>
<g id="node-waste"><circle class="nd" cx="2318" cy="995" r="26" fill="#2e9aa0"/><text x="2322" y="993" font-size="48">waste</text></g>
<g id="node-gasification"><circle class="nd" cx="811" cy="1566" r="26" fill="#3a80a8"/><text class="fd2" x="811" y="1564" font-size="49">gasification</text></g>
<g id="node-pelletizing"><circle class="nd" cx="2183" cy="1479" r="26" fill="#4670a8"/><text x="2183" y="1477" font-size="48">pelletizing</text></g>
<g id="node-life-cycle-assessment"><circle class="nd" cx="2041" cy="2137" r="26" fill="#ecdc30"/><text x="2043" y="2135" font-size="49">life cycle assessment</text></g>
<g id="node-hydrochar"><circle class="nd" cx="1075" cy="2039" r="24" fill="#ecd82a"/><text x="1075" y="2037" font-size="49">hydrochar</text></g>
<g id="node-energy"><circle class="nd" cx="988" cy="2146" r="24" fill="#5555a5"/><text x="988" y="2144" font-size="49">energy</text></g>
<g id="node-u11"><circle class="nd" cx="1322" cy="2061" r="24" fill="#2aa0a0"/></g>
<g id="node-emissions"><circle class="nd" cx="2089" cy="698" r="22" fill="#2f98a0"/><text class="fd2" x="2087" y="694" font-size="49">emissions</text></g>
<g id="node-solid-biofuel"><circle class="nd" cx="1897" cy="763" r="22" fill="#2aa390"/><text x="1897" y="757" font-size="48">solid biofuel</text></g>
<g id="node-ash-content"><circle class="nd" cx="2009" cy="353" r="21" fill="#3d6aa0"/><text x="2009" y="351" font-size="49">ash content</text></g>
<g id="node-solid-fuel"><circle class="nd" cx="449" cy="973" r="21" fill="#2f8aa0"/><text x="447" y="971" font-size="44">solid fuel</text></g>
<g id="node-binder"><circle class="nd" cx="2536" cy="1178" r="21" fill="#7acd52"/><text x="2536" y="1173" font-size="48">binder</text></g>
<g id="node-biofuels"><circle class="nd" cx="2246" cy="2203" r="21" fill="#4a80b0"/><text x="2246" y="2203" font-size="46" fill="#4a4a4a">biofuels</text></g>
<g id="node-pellet-density"><circle class="nd" cx="2384" cy="879" r="20" fill="#3a78a8"/><text x="2381" y="877" font-size="49">pellet density</text></g>
<g id="node-additives"><circle class="nd" cx="1900" cy="598" r="19" fill="#5552a2"/><text x="1900" y="595" font-size="44">additives</text></g>
<g id="node-municipal-solid-waste"><circle class="nd" cx="1420" cy="1934" r="19" fill="#5a58a8"/><text x="1420" y="1932" font-size="44">municipal solid waste</text></g>
<g id="node-pretreatment"><circle class="nd" cx="1040" cy="270" r="17" fill="#3dba6e"/><text x="1040" y="270" font-size="44">pretreatment</text></g>
<g id="node-lignocellulosic-biomass"><circle class="nd" cx="1136" cy="403" r="17" fill="#2f8aa0"/><text x="1138" y="399" font-size="44">lignocellulosic biomass</text></g>
<g id="node-moisture"><circle class="nd" cx="1376" cy="545" r="17" fill="#4a66a6"/><text x="1376" y="543" font-size="44">moisture</text></g>
<g id="node-u3"><circle class="nd" cx="1027" cy="992" r="17" fill="#6068b8"/></g>
<g id="node-ash"><circle class="nd" cx="1828" cy="1500" r="17" fill="#3d7aa8"/><text x="1828" y="1502" font-size="46">ash</text></g>
<g id="node-u7"><circle class="nd" cx="2031" cy="1477" r="17" fill="#6a6ac0"/></g>
<g id="node-paddy-straw"><circle class="nd" cx="2441" cy="2183" r="17" fill="#6a62c0"/><text class="fd1" x="2441" y="2183" font-size="44">paddy straw</text></g>
<g id="node-circular-economy"><circle class="nd" cx="1466" cy="2244" r="17" fill="#4cc070"/><text x="1466" y="2240" font-size="48">circular economy</text></g>
<g id="node-temperature"><circle class="nd" cx="1634" cy="170" r="15" fill="#4563a8"/><text x="1634" y="168" font-size="44">temperature</text></g>
<g id="node-combustion-characteristics"><circle class="nd" cx="2033" cy="530" r="15" fill="#5558a5"/><text x="2033" y="528" font-size="44">combustion characteristics</text></g>
<g id="node-blending"><circle class="nd" cx="2268" cy="635" r="15" fill="#6462b0"/><text x="2270" y="633" font-size="44">blending</text></g>
<g id="node-pellet-properties"><circle class="nd" cx="1876" cy="1112" r="15" fill="#6262b8"/><text x="1873" y="1108" font-size="44">pellet properties</text></g>
<g id="node-solid-biofuels"><circle class="nd" cx="2519" cy="1422" r="15" fill="#5a55a5"/><text x="2521" y="1418" font-size="44">solid biofuels</text></g>
<g id="node-u4"><circle class="nd" cx="2353" cy="1383" r="15" fill="#4a78b8"/></g>
<g id="node-energy-density"><circle class="nd" cx="174" cy="1431" r="15" fill="#4a78b8"/><text x="174" y="1429" font-size="44">energy density</text></g>
<g id="node-response-surface-methodology"><circle class="nd" cx="406" cy="1226" r="15" fill="#e8d82c"/><circle class="nd" cx="534" cy="1200" r="13" fill="#c8dc40"/><text x="534" y="1195" font-size="44">response surface methodology</text></g>
<g id="node-strength"><circle class="nd" cx="2646" cy="894" r="15" fill="#5cc864"/><text x="2646" y="894" font-size="44">strength</text></g>
<g id="node-u1"><circle class="nd" cx="1293" cy="737" r="15" fill="#3a85aa"/></g>
<g id="node-food-waste"><circle class="nd" cx="1062" cy="1884" r="15" fill="#6a6ac0"/><text x="1069" y="1880" font-size="42" fill="#d2d2d2">food waste</text></g>
<g id="node-u8"><circle class="nd" cx="2310" cy="1592" r="15" fill="#5a6ab8"/></g>
<g id="node-u6"><circle class="nd" cx="1215" cy="1472" r="15" fill="#e0d830"/></g>
<g id="node-wheat-straw"><circle class="nd" cx="288" cy="1016" r="15" fill="#efdc30"/><text class="fd3" x="288" y="1016" font-size="42">wheat straw</text></g>
<g id="node-lignin"><circle class="nd" cx="2297" cy="1836" r="14" fill="#2aa080"/><text x="2297" y="1832" font-size="44">lignin</text></g>
<g id="node-u10"><circle class="nd" cx="641" cy="1919" r="14" fill="#50c878"/></g>
<g id="node-tensile-strength"><circle class="nd" cx="1359" cy="46" r="13" fill="#3b7dab"/><text x="1359" y="44" font-size="44">tensile strength</text></g>
<g id="node-pressure"><circle class="nd" cx="1274" cy="286" r="13" fill="#2b9a98"/><text x="1276" y="283" font-size="44">pressure</text></g>
<g id="node-physicochemical-properties"><circle class="nd" cx="1023" cy="467" r="13" fill="#4e62a8"/><text x="1021" y="465" font-size="44">physicochemical properties</text></g>
<g id="node-u2"><circle class="nd" cx="1195" cy="877" r="13" fill="#3a80aa"/></g>
<g id="node-bulk-density"><text x="1032" y="872" font-size="50">bulk density</text></g>
<g id="node-supply-chain"><circle class="nd" cx="1093" cy="1175" r="13" fill="#2a9a98"/><text x="1093" y="1171" font-size="44">supply chain</text></g>
<g id="node-sustainability"><circle class="nd" cx="2541" cy="1810" r="13" fill="#5a55a5"/><text x="2541" y="1806" font-size="42">sustainability</text></g>
<g id="node-corn-straw"><circle class="nd" cx="318" cy="2198" r="13" fill="#2a88a8"/><text x="314" y="2196" font-size="42">corn straw</text></g>
<g id="node-wheat-straw-pellet"><circle class="nd" cx="781" cy="2236" r="13" fill="#4a78b8"/><text x="785" y="2233" font-size="42">wheat straw pellet</text></g>
<g id="node-characterization"><circle class="nd" cx="2013" cy="2316" r="13" fill="#2a9aa0"/><text x="2013" y="2314" font-size="44">characterization</text></g>
<g id="node-agricultural-biomass"><circle class="nd" cx="737" cy="1082" r="12" fill="#e0d42e"/><text x="737" y="1078" font-size="44">agricultural biomass</text></g>
<g id="node-char-structure"><circle class="nd" cx="718" cy="584" r="12" fill="#e3d62c"/><text x="715" y="582" font-size="42">char structure</text></g>
<g id="node-pellets-quality"><circle class="nd" cx="2617" cy="1679" r="12" fill="#78d070"/><text x="2617" y="1677" font-size="44">pellets quality</text></g>
<g id="node-kinetics"><circle class="nd" cx="1195" cy="1758" r="12" fill="#2a8ea0"/><text x="1195" y="1754" font-size="42">kinetics</text></g>
<g id="node-biomass-energy"><circle class="nd" cx="1793" cy="1839" r="12" fill="#40b878"/><text x="1799" y="1834" font-size="44">biomass energy</text></g>
<g id="node-solid-waste"><circle class="nd" cx="781" cy="1906" r="12" fill="#2a9aa0"/><text x="781" y="1902" font-size="42">solid waste</text></g>
<g id="node-rice-straw"><circle class="nd" cx="2161" cy="2033" r="12" fill="#40b878"/><text x="2161" y="2026" font-size="42">rice straw</text></g>
<g id="node-coal"><circle class="nd" cx="2401" cy="2037" r="12" fill="#4a80b0"/><text x="2401" y="2033" font-size="42">coal</text></g>
<g id="node-waste-to-energy"><circle class="nd" cx="1518" cy="2111" r="12" fill="#50c070"/><text x="1516" y="2105" font-size="42">waste to energy</text></g>
<g id="node-straw"><circle class="nd" cx="2126" cy="1287" r="11" fill="#2a8aa0"/><text x="2126" y="1280" font-size="42">straw</text></g>
<g id="node-storage"><circle class="nd" cx="1721" cy="816" r="11" fill="#5858a8"/><text x="1721" y="812" font-size="46" font-weight="bold">storage</text></g>
<g id="node-hardness"><circle class="nd" cx="2680" cy="722" r="10" fill="#74d060"/><text x="2680" y="720" font-size="42">hardness</text></g>
<g id="node-emission"><circle class="nd" cx="1989" cy="1871" r="10" fill="#2a9aa0"/><text x="1989" y="1865" font-size="44">emission</text></g>
<g id="node-co-pelletization"><circle class="nd" cx="1461" cy="1570" r="10" fill="#e6d830"/><text x="1459" y="1566" font-size="42">co-pelletization</text></g>
<g id="node-heating-value"><circle class="nd" cx="2131" cy="999" r="9" fill="#2a9a9a"/><text x="2131" y="999" font-size="44">heating value</text></g>
<g id="node-fuel-pellet"><text x="1232" y="1298" font-size="44">fuel pellet</text></g>
<g id="node-wood-pellet"><circle class="nd" cx="1819" cy="1300" r="35" fill="#2d8e9e"/><text class="fd1" x="1819" y="1300" font-size="54">wood pellet</text></g>
<g id="node-steam-explosion"><circle class="nd" cx="1483" cy="390" r="8" fill="#5070b0"/><text x="1483" y="384" font-size="44">steam explosion</text></g>
<g id="legend">
<rect x="2192" y="2312" width="1204" height="183" rx="40" fill="#ffffff" stroke="#cfcfcf" stroke-width="3"/>
<rect x="2229" y="2342" width="1129" height="61" fill="url(#vir)" stroke="#555" stroke-width="3"/>
<line class="tick" x1="2288" y1="2383" x2="2288" y2="2427"/>
<line class="tick" x1="2625" y1="2383" x2="2625" y2="2427"/>
<line class="tick" x1="2960" y1="2383" x2="2960" y2="2427"/>
<line class="tick" x1="3299" y1="2383" x2="3299" y2="2427"/>
<text class="lg" x="2288" y="2456">5</text>
<text class="lg" x="2625" y="2456">10</text>
<text class="lg" x="2960" y="2456">15</text>
<text class="lg" x="3299" y="2456">20</text>
</g>
</svg>
